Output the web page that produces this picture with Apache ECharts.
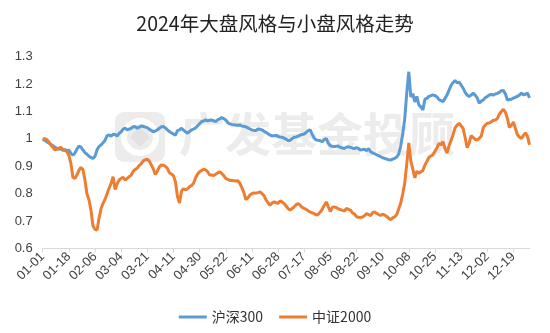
<!DOCTYPE html>
<html>
<head>
<meta charset="utf-8">
<script src="https://cdn.jsdelivr.net/npm/echarts@6/dist/echarts.min.js"></script>
<style>html,body{margin:0;padding:0;background:#fff}#c{width:550px;height:333px}</style>
</head>
<body>
<div id="c"></div>
<script>
const titleText = "2024年大盘风格与小盘风格走势";
const seriesNames = ["沪深300", "中证2000"];
const categories = ("01-01,01-02,01-03,01-04,01-05,01-08,01-09,01-10,01-11,01-12,01-15,01-16,01-17,01-18,01-19,01-22,01-23,01-24,01-25,01-26,01-29,01-30,01-31," +
 "02-01,02-02,02-05,02-06,02-07,02-08,02-19,02-20,02-21,02-22,02-23,02-26,02-27,02-28,02-29," +
 "03-01,03-04,03-05,03-06,03-07,03-08,03-11,03-12,03-13,03-14,03-15,03-18,03-19,03-20,03-21,03-22,03-25,03-26,03-27,03-28,03-29," +
 "04-01,04-02,04-03,04-08,04-09,04-10,04-11,04-12,04-15,04-16,04-17,04-18,04-19,04-22,04-23,04-24,04-25,04-26,04-29,04-30," +
 "05-06,05-07,05-08,05-09,05-10,05-13,05-14,05-15,05-16,05-17,05-20,05-21,05-22,05-23,05-24,05-27,05-28,05-29,05-30,05-31," +
 "06-03,06-04,06-05,06-06,06-07,06-11,06-12,06-13,06-14,06-17,06-18,06-19,06-20,06-21,06-24,06-25,06-26,06-27,06-28," +
 "07-01,07-02,07-03,07-04,07-05,07-08,07-09,07-10,07-11,07-12,07-15,07-16,07-17,07-18,07-19,07-22,07-23,07-24,07-25,07-26,07-29,07-30,07-31," +
 "08-01,08-02,08-05,08-06,08-07,08-08,08-09,08-12,08-13,08-14,08-15,08-16,08-19,08-20,08-21,08-22,08-23,08-26,08-27,08-28,08-29,08-30," +
 "09-02,09-03,09-04,09-05,09-06,09-09,09-10,09-11,09-12,09-13,09-18,09-19,09-20,09-23,09-24,09-25,09-26,09-27,09-30," +
 "10-08,10-09,10-10,10-11,10-14,10-15,10-16,10-17,10-18,10-21,10-22,10-23,10-24,10-25,10-28,10-29,10-30,10-31," +
 "11-01,11-04,11-05,11-06,11-07,11-08,11-11,11-12,11-13,11-14,11-15,11-18,11-19,11-20,11-21,11-22,11-25,11-26,11-27,11-28,11-29," +
 "12-02,12-03,12-04,12-05,12-06,12-09,12-10,12-11,12-12,12-13,12-16,12-17,12-18,12-19,12-20,12-23,12-24,12-25,12-26,12-27,12-30,12-31").split(",");

const hs300 = [
 1.000,0.995,0.990,0.985,0.980,0.976,0.970,0.966,0.962,0.964,0.958,0.961,0.957,0.959,0.948,0.940,0.948,0.962,0.974,0.970,
 0.960,0.950,0.944,0.937,0.932,0.929,0.936,0.960,0.972,0.978,0.986,0.995,1.012,1.014,1.010,1.017,1.016,1.010,1.020,1.026,
 1.036,1.039,1.033,1.036,1.039,1.045,1.044,1.039,1.043,1.047,1.045,1.043,1.041,1.035,1.031,1.026,1.029,1.033,1.039,1.044,
 1.045,1.040,1.033,1.027,1.022,1.018,1.014,1.030,1.033,1.039,1.032,1.026,1.021,1.027,1.033,1.036,1.040,1.048,1.055,1.063,
 1.066,1.069,1.066,1.068,1.069,1.066,1.063,1.070,1.073,1.078,1.074,1.069,1.059,1.055,1.053,1.052,1.051,1.050,1.051,1.047,
 1.046,1.044,1.040,1.036,1.033,1.031,1.031,1.036,1.035,1.033,1.028,1.024,1.019,1.014,1.011,1.012,1.013,1.009,1.007,1.006,
 1.003,0.999,0.993,0.995,1.001,1.006,1.007,1.010,1.014,1.016,1.018,1.024,1.030,1.033,1.016,1.002,0.996,0.995,0.993,0.990,
 0.998,1.001,0.984,0.975,0.973,0.972,0.973,0.974,0.969,0.967,0.965,0.970,0.971,0.969,0.966,0.965,0.968,0.965,0.959,0.961,
 0.962,0.957,0.965,0.953,0.949,0.946,0.942,0.939,0.935,0.931,0.929,0.926,0.924,0.923,0.926,0.929,0.934,0.945,0.975,1.020,
 1.075,1.170,1.245,1.153,1.165,1.135,1.155,1.124,1.117,1.106,1.145,1.148,1.155,1.158,1.161,1.158,1.153,1.143,1.140,1.136,
 1.148,1.160,1.178,1.195,1.205,1.213,1.205,1.207,1.197,1.185,1.170,1.160,1.155,1.160,1.167,1.160,1.150,1.130,1.138,1.142,
 1.150,1.155,1.160,1.162,1.160,1.164,1.166,1.170,1.176,1.177,1.165,1.142,1.144,1.145,1.149,1.152,1.155,1.160,1.167,1.161,
 1.163,1.167,1.150
];

const zz2000 = [
 1.000,1.001,0.998,0.990,0.978,0.970,0.960,0.963,0.966,0.969,0.962,0.958,0.954,0.940,0.912,0.860,0.855,0.868,0.885,0.896,
 0.888,0.850,0.800,0.778,0.740,0.682,0.670,0.667,0.710,0.745,0.765,0.780,0.800,0.820,0.838,0.862,0.815,0.836,0.850,0.856,
 0.860,0.849,0.856,0.862,0.868,0.882,0.889,0.893,0.903,0.910,0.920,0.924,0.926,0.919,0.905,0.890,0.870,0.882,0.898,0.905,
 0.904,0.900,0.892,0.876,0.872,0.866,0.843,0.790,0.766,0.810,0.818,0.814,0.818,0.825,0.830,0.838,0.858,0.872,0.880,0.885,
 0.889,0.887,0.880,0.868,0.868,0.866,0.871,0.876,0.880,0.874,0.866,0.856,0.852,0.849,0.848,0.847,0.846,0.847,0.838,0.822,
 0.805,0.778,0.785,0.795,0.800,0.803,0.802,0.804,0.807,0.800,0.793,0.778,0.767,0.758,0.766,0.770,0.767,0.765,0.774,0.770,
 0.764,0.755,0.746,0.740,0.746,0.752,0.760,0.764,0.758,0.750,0.746,0.743,0.737,0.733,0.730,0.727,0.722,0.725,0.733,0.744,
 0.758,0.770,0.752,0.735,0.750,0.752,0.749,0.745,0.742,0.739,0.737,0.746,0.743,0.740,0.730,0.726,0.716,0.714,0.713,0.715,
 0.720,0.727,0.724,0.720,0.731,0.733,0.728,0.724,0.721,0.725,0.722,0.717,0.710,0.705,0.712,0.716,0.724,0.745,0.766,0.800,
 0.840,0.910,0.985,0.920,0.890,0.858,0.882,0.875,0.880,0.885,0.905,0.918,0.932,0.938,0.942,0.955,0.968,0.984,0.978,0.990,
 0.965,0.948,0.975,0.994,1.015,1.040,1.050,1.057,1.048,1.038,1.005,0.968,0.985,1.012,1.005,0.998,0.996,1.002,1.010,1.040,
 1.050,1.057,1.058,1.062,1.068,1.069,1.074,1.090,1.100,1.108,1.098,1.075,1.042,1.050,1.062,1.038,1.015,1.006,1.002,1.013,
 1.022,1.010,0.978
];

const yMin = 0.6, yMax = 1.3, yStep = 0.1;
const watermarkText = "广发基金投顾";

const chart = echarts.init(document.getElementById('c'), null, {renderer: 'canvas'});
const wm = '#ececec';
chart.setOption({
  animation: false,
  backgroundColor: '#fff',
  title: {
    text: titleText, left: 'center', top: 9,
    textStyle: {fontFamily: 'Noto Sans CJK SC', fontSize: 19.5, fontWeight: 'normal', color: '#222'}
  },
  graphic: [
    {type: 'rect', z: 0, shape: {x: 115, y: 112, width: 50, height: 50, r: 9}, style: {fill: wm}},
    {type: 'circle', z: 0, shape: {cx: 140, cy: 137, r: 16}, style: {fill: 'none', stroke: '#fff', lineWidth: 6}},
    {type: 'polygon', z: 0, shape: {points: [[140, 127], [150, 137], [140, 147], [130, 137]]}, style: {fill: '#e2e2e2'}},
    {type: 'text', z: 0, x: 317, y: 134, style: {text: watermarkText, fill: wm, fontSize: 46, fontWeight: 'bold',
      fontFamily: 'Noto Sans CJK SC', align: 'center', verticalAlign: 'middle'}}
  ],
  legend: {
    bottom: 4, left: 'center', icon: 'rect', itemWidth: 28, itemHeight: 3, itemGap: 16,
    textStyle: {fontFamily: 'Noto Sans CJK SC', fontSize: 14, color: '#333'},
    data: seriesNames
  },
  grid: {left: 42.7, right: 20.5, top: 56.7, bottom: 84.5, containLabel: false},
  xAxis: {
    type: 'category', data: categories, boundaryGap: false,
    axisLine: {lineStyle: {color: '#d9d9d9'}},
    axisTick: {interval: 12, length: 4, lineStyle: {color: '#d9d9d9'}},
    axisLabel: {interval: 12, rotate: 45, fontSize: 13, color: '#404040', fontFamily: 'Liberation Sans', margin: 6}
  },
  yAxis: {
    type: 'value', min: yMin, max: yMax, interval: yStep,
    axisLine: {show: false}, axisTick: {show: false}, splitLine: {show: false},
    axisLabel: {fontSize: 13, color: '#404040', fontFamily: 'Liberation Sans', margin: 10}
  },
  series: [
    {name: seriesNames[0], type: 'line', data: hs300, symbol: 'none', z: 3,
     lineStyle: {width: 3, color: '#5B9BD5'}, itemStyle: {color: '#5B9BD5'}},
    {name: seriesNames[1], type: 'line', data: zz2000, symbol: 'none', z: 3,
     lineStyle: {width: 3, color: '#ED7D31'}, itemStyle: {color: '#ED7D31'}}
  ]
});
</script>
</body>
</html>
